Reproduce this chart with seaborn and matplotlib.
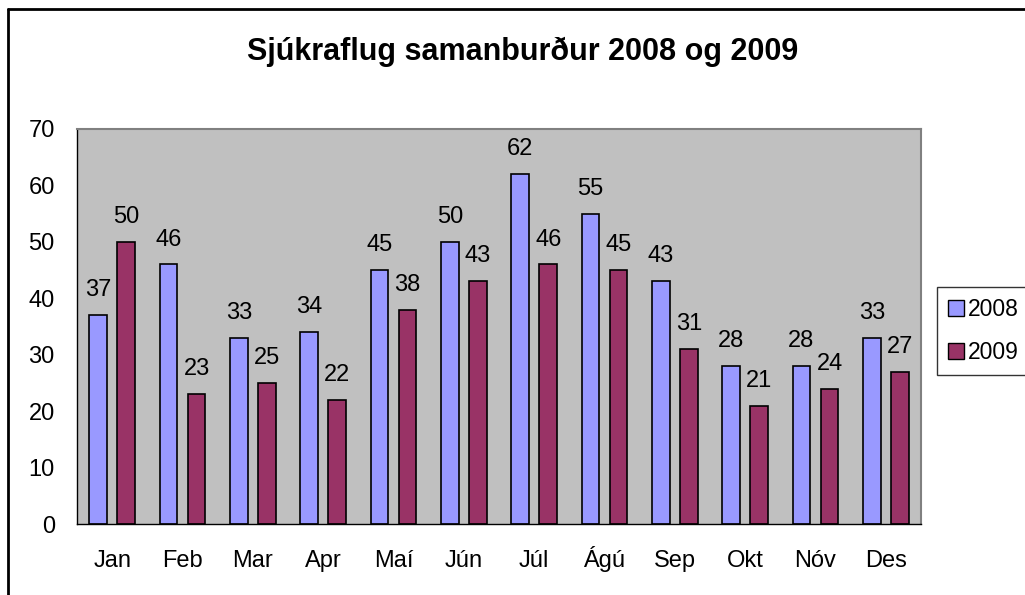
import matplotlib
matplotlib.use("Agg")
import matplotlib.pyplot as plt
from matplotlib.lines import Line2D
import seaborn as sns
import pandas as pd

months = ["Jan", "Feb", "Mar", "Apr", "Maí", "Jún", "Júl", "Ágú", "Sep", "Okt", "Nóv", "Des"]
values_2008 = [37, 46, 33, 34, 45, 50, 62, 55, 43, 28, 28, 33]
values_2009 = [50, 23, 25, 22, 38, 43, 46, 45, 31, 21, 24, 27]
series = ["2008", "2009"]
colors = ["#9999FF", "#993366"]
title = "Sjúkraflug samanburður 2008 og 2009"

df = pd.DataFrame({
    "month": months * 2,
    "value": values_2008 + values_2009,
    "year": [series[0]] * len(months) + [series[1]] * len(months),
})

sns.set_theme(style="white")
plt.rcParams["font.family"] = ["Liberation Sans", "DejaVu Sans"]
plt.rcParams["text.color"] = "black"

fig = plt.figure(figsize=(10.25, 5.95), dpi=100)
ax = fig.add_axes([0.0751, 0.1193, 0.8234, 0.6639])

sns.barplot(data=df, x="month", y="value", hue="year", order=months,
            hue_order=series, palette=colors, width=0.8, gap=0.375,
            edgecolor="black", linewidth=1.2, saturation=1, ax=ax, legend=True)

ax.set_facecolor("#C0C0C0")
ax.set_ylim(0, 70)
ax.set_xlim(-0.5, len(months) - 0.5)
ax.set_yticks(range(0, 71, 10))
ax.set_xlabel("")
ax.set_ylabel("")
ax.tick_params(axis="both", labelsize=17, labelcolor="black")
ax.tick_params(axis="y", which="major", length=5, width=1, color="black", direction="out", pad=11)
ax.tick_params(axis="x", which="major", length=0, pad=31)
for lbl in ax.get_xticklabels():
    lbl.set_verticalalignment("baseline")
# boundary ticks between categories
ax.set_xticks([i - 0.5 for i in range(len(months) + 1)], minor=True)
ax.tick_params(axis="x", which="minor", length=5, width=1, color="black", direction="out")

for side in ["top", "right"]:
    ax.spines[side].set_color("#808080")
    ax.spines[side].set_linewidth(1.5)
for side in ["left", "bottom"]:
    ax.spines[side].set_color("black")
    ax.spines[side].set_linewidth(1)
    ax.spines[side].set_visible(True)

for cont in ax.containers:
    ax.bar_label(cont, fmt="%d", padding=10, fontsize=17, color="black")

leg = ax.get_legend()
if leg is not None:
    leg.remove()
handles = [plt.Rectangle((0, 0), 1, 1, facecolor=c, edgecolor="black", linewidth=1) for c in colors]
fig.legend(handles, series, loc="upper left", bbox_to_anchor=(0.914, 0.518),
           frameon=True, fancybox=False, edgecolor="black", fontsize=16.5,
           handlelength=0.7, handleheight=0.7, handletextpad=0.15,
           borderpad=0.5, labelspacing=0.85, borderaxespad=0)

fig.text(0.51, 0.913, title, ha="center", va="center", fontsize=22, fontweight="bold", color="black")

# outer chart frame (left and top edges visible)
fig.add_artist(Line2D([0.0078, 0.0078], [0.0, 0.985], transform=fig.transFigure, color="black", linewidth=2))
fig.add_artist(Line2D([0.0078, 1.0], [0.985, 0.985], transform=fig.transFigure, color="black", linewidth=2))

fig.savefig("out.png", dpi=100, facecolor="white")
